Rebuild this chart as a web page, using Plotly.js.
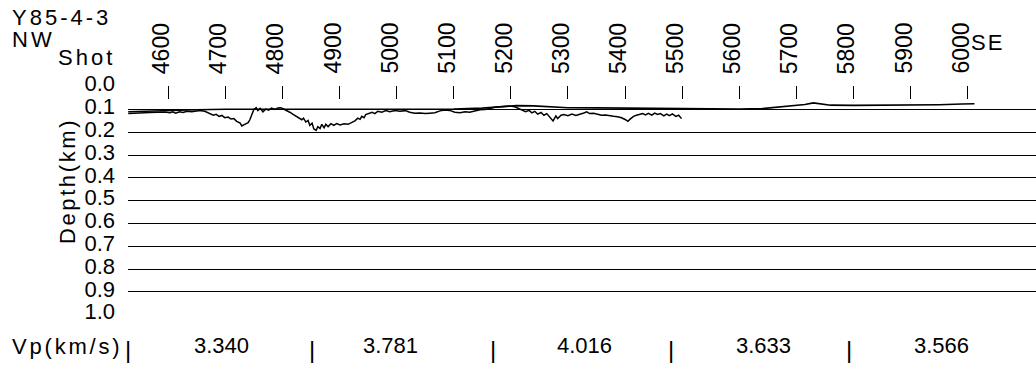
<!DOCTYPE html>
<html>
<head>
<meta charset="utf-8">
<script src="https://cdn.plot.ly/plotly-3.0.1.min.js"></script>
<style>
html,body{margin:0;padding:0;background:#fff;}
#chart{width:1036px;height:366px;}
</style>
</head>
<body>
<div id="chart"></div>
<script>
// ---- data ----
const profileName = 'Y85-4-3';
const shotTicks = [4600,4700,4800,4900,5000,5100,5200,5300,5400,5500,5600,5700,5800,5900,6000];
const depthTicks = [0.0,0.1,0.2,0.3,0.4,0.5,0.6,0.7,0.8,0.9,1.0];

const shotsUpper = [4530,4560,4600,4650,4700,4800,4900,5000,5100,5150,5180,5210,5240,5270,5300,5350,5400,5450,5500,5550,5600,5640,5670,5700,5715,5730,5745,5760,5800,5850,5900,5950,5990,6005,6012];
const depthUpper = [0.110,0.107,0.104,0.101,0.099,0.098,0.099,0.099,0.098,0.094,0.088,0.083,0.084,0.089,0.092,0.093,0.094,0.096,0.097,0.098,0.098,0.096,0.090,0.082,0.078,0.071,0.077,0.081,0.082,0.082,0.081,0.079,0.076,0.074,0.075];

const shotsLower = [4530,4542,4554,4568,4582,4594,4603,4608,4613,4620,4626,4633,4641,4649,4656,4664,4673,4679,4684,4689,4694,4699,4705,4710,4715,4720,4726,4729,4734,4740,4743,4746,4750,4754,4757,4761,4766,4771,4776,4781,4787,4792,4797,4802,4807,4813,4818,4823,4828,4834,4837,4841,4845,4848,4852,4855,4859,4862,4866,4869,4873,4876,4880,4885,4890,4895,4901,4908,4915,4922,4927,4932,4936,4939,4943,4946,4952,4957,4962,4967,4974,4981,4988,4997,5006,5015,5023,5032,5041,5050,5058,5067,5076,5085,5093,5102,5111,5120,5128,5137,5146,5155,5163,5172,5181,5190,5198,5207,5216,5221,5226,5232,5237,5242,5247,5253,5258,5263,5268,5274,5279,5282,5288,5293,5300,5307,5314,5321,5328,5333,5338,5345,5352,5359,5366,5373,5380,5387,5394,5401,5405,5410,5415,5420,5426,5431,5436,5441,5447,5452,5457,5462,5468,5473,5478,5483,5489,5494,5499];
const depthLower = [0.117,0.115,0.114,0.113,0.112,0.111,0.114,0.110,0.116,0.110,0.113,0.108,0.110,0.106,0.104,0.108,0.118,0.125,0.121,0.130,0.126,0.136,0.133,0.142,0.140,0.152,0.160,0.172,0.165,0.158,0.145,0.125,0.100,0.092,0.105,0.095,0.110,0.098,0.103,0.094,0.100,0.093,0.092,0.098,0.103,0.112,0.120,0.128,0.133,0.145,0.138,0.155,0.148,0.170,0.160,0.185,0.192,0.175,0.183,0.165,0.180,0.165,0.175,0.162,0.170,0.162,0.168,0.163,0.165,0.158,0.150,0.138,0.143,0.130,0.136,0.122,0.118,0.112,0.118,0.108,0.112,0.105,0.110,0.104,0.108,0.105,0.112,0.116,0.115,0.118,0.116,0.114,0.106,0.102,0.104,0.112,0.114,0.110,0.112,0.105,0.101,0.100,0.094,0.090,0.088,0.086,0.085,0.088,0.098,0.105,0.110,0.104,0.115,0.108,0.120,0.113,0.125,0.118,0.133,0.150,0.128,0.140,0.125,0.122,0.127,0.120,0.126,0.122,0.115,0.110,0.118,0.116,0.122,0.125,0.124,0.128,0.130,0.132,0.136,0.145,0.152,0.140,0.130,0.125,0.122,0.118,0.124,0.117,0.125,0.116,0.122,0.118,0.128,0.120,0.127,0.119,0.130,0.125,0.140];

const vpLabel = 'Vp(km/s)';
const vpValues = ['3.340','3.781','4.016','3.633','3.566'];

// ---- layout constants (positions, not data) ----
const W = 1036, H = 366;
const M = {l:128, r:0, t:86, b:51};
const PW = W - M.l - M.r, PH = H - M.t - M.b;
const px = x => (x - M.l) / PW;           // pixel x -> paper
const py = y => (H - M.b - y) / PH;       // pixel y -> paper
const vpCenterPx = [221, 390, 584, 763, 941];
const vpSepPx = [128, 311.7, 493.3, 670.7, 849];

const FONT = 'Liberation Sans, Arial, Helvetica, sans-serif';
const ls = (t, s) => '<span style="letter-spacing:' + s + 'px">' + t + '</span>';

const annotations = [];
function ann(o){
  annotations.push(Object.assign({xref:'paper', yref:'paper', showarrow:false, borderpad:0,
    font:{family:FONT, size:22, color:'#000'}}, o));
}
ann({text: ls(profileName,3), x:px(11), y:py(17.5), xanchor:'left', yanchor:'middle'});
ann({text: ls('NW',3), x:px(11), y:py(39.2), xanchor:'left', yanchor:'middle'});
ann({text: ls('Shot',3), x:px(116), y:py(58), xanchor:'right', yanchor:'middle'});
ann({text: ls('SE',2), x:px(970), y:py(42.5), xanchor:'left', yanchor:'middle'});
ann({text: ls('Depth(km)',2.6), x:px(67), y:py(181), xanchor:'center', yanchor:'middle', textangle:-90});
ann({text: ls(vpLabel,2.8), x:px(10.5), y:py(346.3), xanchor:'left', yanchor:'middle'});
vpValues.forEach((v,i) => ann({text:v, x:px(vpCenterPx[i]), y:py(345.3), xanchor:'center', yanchor:'middle'}));
vpSepPx.forEach(s => ann({text:'|', x:px(s), y:py(349), xanchor:'center', yanchor:'middle', font:{family:FONT, size:24, color:'#000'}}));
// shot tick labels, placed on the x scale, rotated like the reference
shotTicks.forEach(s => ann({text:String(s), xref:'x', x:s, xshift:-7.5, y:py(48.5), xanchor:'center', yanchor:'middle',
  textangle:-90, font:{family:FONT, size:23, color:'#000'}}));

const x0 = 4529.6, spp = 100/57.1; // shots per pixel
const xRange = [x0, x0 + PW*spp];
const traces = [
  {x: shotsUpper, y: depthUpper, type:'scatter', mode:'lines', line:{color:'#000', width:1.6}, hoverinfo:'skip'},
  {x: shotsLower, y: depthLower, type:'scatter', mode:'lines', line:{color:'#000', width:1.5}, hoverinfo:'skip'}
];

const layout = {
  width: W, height: H,
  margin: M,
  paper_bgcolor:'#fff', plot_bgcolor:'#fff',
  showlegend:false,
  font:{family:FONT, color:'#000'},
  xaxis:{
    side:'top', range:xRange,
    tickmode:'array', tickvals: shotTicks,
    ticks:'inside', ticklen:13, tickwidth:1, tickcolor:'#000',
    showticklabels:false,
    showgrid:false, zeroline:false, showline:false
  },
  yaxis:{
    range:[1 + 0.3/228, -0.7/228],
    tickmode:'array', tickvals: depthTicks, ticktext: depthTicks.map(v => v.toFixed(1)),
    ticks:'', tickfont:{family:FONT, size:22, color:'#000'},
    ticklabelstandoff:12, ticklabelshift:3,
    showgrid:true, gridcolor:'#000', gridwidth:1,
    zeroline:false, showline:false
  },
  annotations: annotations
};

Plotly.newPlot('chart', traces, layout, {staticPlot:true, displayModeBar:false});
</script>
</body>
</html>
